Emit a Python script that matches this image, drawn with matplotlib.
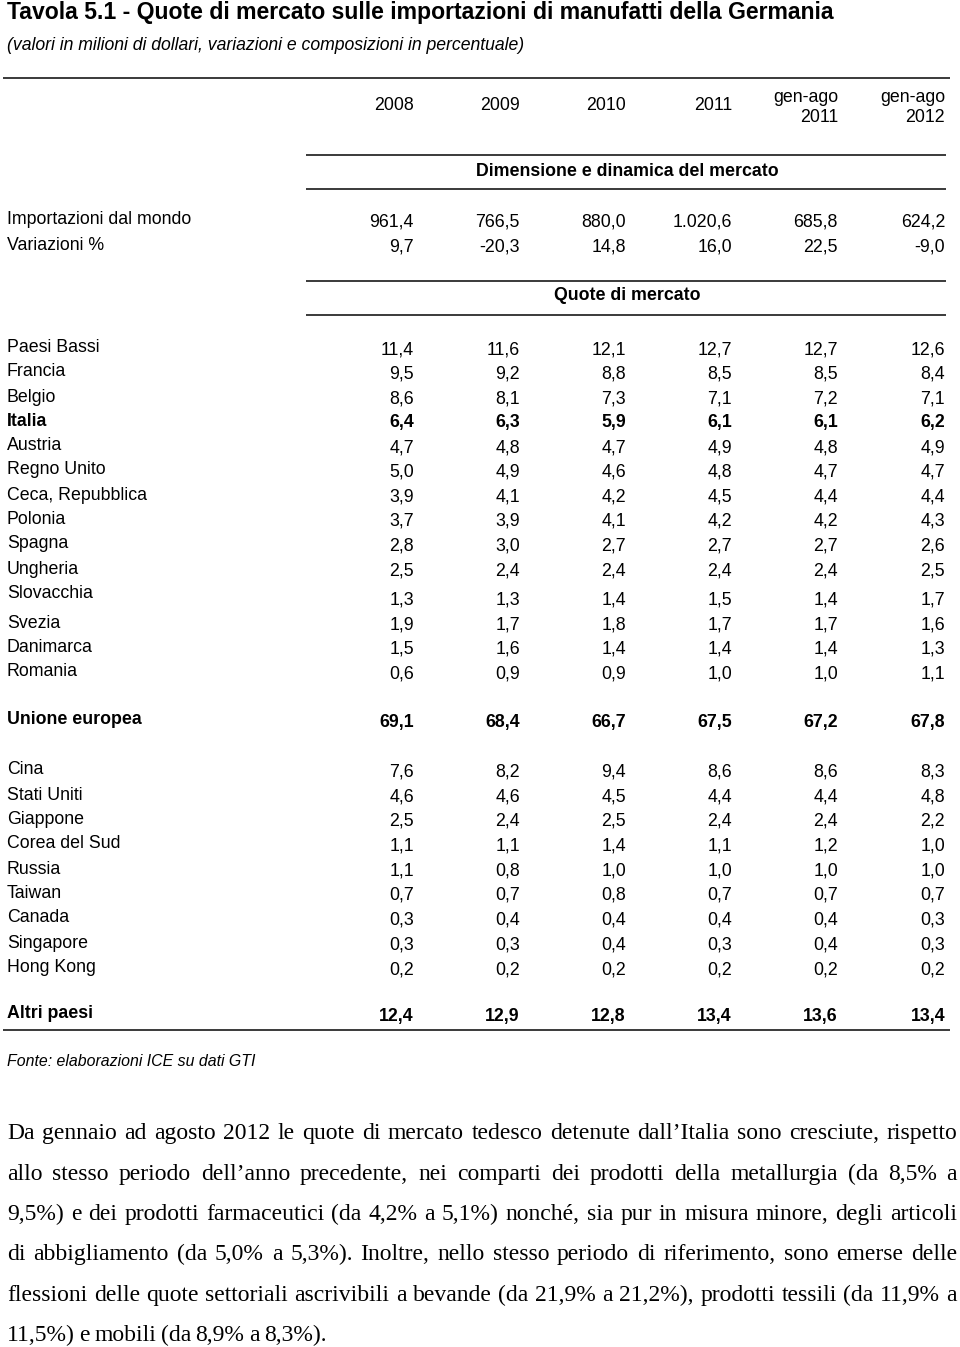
#!/usr/bin/env python3
# -*- coding: utf-8 -*-

import matplotlib
matplotlib.use("Agg")
import matplotlib.pyplot as plt

FILE_PLOT = "out.png"

# ---------------------------
#  Data
# ---------------------------

TITLE = "Tavola 5.1 - Quote di mercato sulle importazioni di manufatti della Germania"
SUBTITLE = "(valori in milioni di dollari, variazioni e composizioni in percentuale)"

periods = ["2008", "2009", "2010", "2011", "gen-ago\n2011", "gen-ago\n2012"]

import_world = [961.4, 766.5, 880.0, 1020.6, 685.8, 624.2]
variations = [9.7, -20.3, 14.8, 16.0, 22.5, -9.0]

eu_countries = ["Paesi Bassi", "Francia", "Belgio", "Italia", "Austria",
                "Regno Unito", "Ceca, Repubblica", "Polonia", "Spagna",
                "Ungheria", "Slovacchia", "Svezia", "Danimarca", "Romania"]
eu_values = [
    [11.4, 11.6, 12.1, 12.7, 12.7, 12.6],
    [9.5, 9.2, 8.8, 8.5, 8.5, 8.4],
    [8.6, 8.1, 7.3, 7.1, 7.2, 7.1],
    [6.4, 6.3, 5.9, 6.1, 6.1, 6.2],
    [4.7, 4.8, 4.7, 4.9, 4.8, 4.9],
    [5.0, 4.9, 4.6, 4.8, 4.7, 4.7],
    [3.9, 4.1, 4.2, 4.5, 4.4, 4.4],
    [3.7, 3.9, 4.1, 4.2, 4.2, 4.3],
    [2.8, 3.0, 2.7, 2.7, 2.7, 2.6],
    [2.5, 2.4, 2.4, 2.4, 2.4, 2.5],
    [1.3, 1.3, 1.4, 1.5, 1.4, 1.7],
    [1.9, 1.7, 1.8, 1.7, 1.7, 1.6],
    [1.5, 1.6, 1.4, 1.4, 1.4, 1.3],
    [0.6, 0.9, 0.9, 1.0, 1.0, 1.1],
]
eu_total = [69.1, 68.4, 66.7, 67.5, 67.2, 67.8]

other_countries = ["Cina", "Stati Uniti", "Giappone", "Corea del Sud", "Russia",
                   "Taiwan", "Canada", "Singapore", "Hong Kong"]
other_values = [
    [7.6, 8.2, 9.4, 8.6, 8.6, 8.3],
    [4.6, 4.6, 4.5, 4.4, 4.4, 4.8],
    [2.5, 2.4, 2.5, 2.4, 2.4, 2.2],
    [1.1, 1.1, 1.4, 1.1, 1.2, 1.0],
    [1.1, 0.8, 1.0, 1.0, 1.0, 1.0],
    [0.7, 0.7, 0.8, 0.7, 0.7, 0.7],
    [0.3, 0.4, 0.4, 0.4, 0.4, 0.3],
    [0.3, 0.3, 0.4, 0.3, 0.4, 0.3],
    [0.2, 0.2, 0.2, 0.2, 0.2, 0.2],
]
rest_total = [12.4, 12.9, 12.8, 13.4, 13.6, 13.4]

SOURCE = "Fonte: elaborazioni ICE su dati GTI"

paragraph_lines = [
    "Da gennaio ad agosto 2012 le quote di mercato tedesco detenute dall\u2019Italia sono cresciute, rispetto",
    "allo stesso periodo dell\u2019anno precedente, nei comparti dei prodotti della metallurgia (da 8,5% a",
    "9,5%) e dei prodotti farmaceutici (da 4,2% a 5,1%) nonché, sia pur in misura minore, degli articoli",
    "di abbigliamento (da 5,0% a 5,3%). Inoltre, nello stesso periodo di riferimento, sono emerse delle",
    "flessioni delle quote settoriali ascrivibili a bevande (da 21,9% a 21,2%), prodotti tessili (da 11,9% a",
    "11,5%) e mobili (da 8,9% a 8,3%).",
]

# ---------------------------
#  Layout (pixels)
# ---------------------------

COL_RIGHT = [414, 520, 626, 732, 838, 945]
LABEL_X = 7
SANS = ["Liberation Sans", "DejaVu Sans"]
SERIF = ["Liberation Serif", "DejaVu Serif"]
FS = 12.8
PARA_FS = 17.0
LINE_COLOR = "#3a3a3a"

eu_y = [350, 374, 399, 423, 448, 472, 497, 521, 546, 571, 600, 625, 649, 674]
other_y = [772, 797, 821, 846, 871, 895, 920, 945, 970]
para_baseline = [1139, 1180, 1220, 1260, 1301, 1341]


def fmt_it(v):
    """Formato italiano: 1.020,6"""
    s = f"{v:,.1f}"
    return s.replace(",", "X").replace(".", ",").replace("X", ".")


def hline(ax, y, x0, x1):
    ax.plot([x0, x1], [y, y], color=LINE_COLOR, lw=1.4, solid_capstyle="butt")


def row(ax, y, label, values, bold=False, label_dy=-2):
    w = "bold" if bold else "normal"
    ax.text(LABEL_X, y + label_dy, label, ha="left", va="center",
            fontsize=FS, family=SANS, weight=w)
    for x, v in zip(COL_RIGHT, values):
        ax.text(x, y, fmt_it(v), ha="right", va="center",
                fontsize=FS, family=SANS, weight=w)


def justified_line(ax, renderer, text, y, x0, x1, justify=True):
    words = text.split(" ")
    objs = [ax.text(0, y, wd, ha="left", va="baseline", fontsize=PARA_FS,
                    family=SERIF) for wd in words]
    widths = [o.get_window_extent(renderer).width for o in objs]
    if justify and len(words) > 1:
        gap = (x1 - x0 - sum(widths)) / (len(words) - 1)
    else:
        gap = 4.5
    x = x0
    for o, w in zip(objs, widths):
        o.set_x(x)
        x += w + gap


# ---------------------------
#  Plot
# ---------------------------

def main():
    fig = plt.figure(figsize=(9.6, 13.47), dpi=100)
    ax = fig.add_axes([0, 0, 1, 1])
    ax.set_xlim(0, 960)
    ax.set_ylim(1347, 0)
    ax.axis("off")

    ax.text(7, 12, TITLE, ha="left", va="center", fontsize=16.6,
            family=SANS, weight="bold")
    ax.text(7, 46, SUBTITLE, ha="left", va="center", fontsize=12.7,
            family=SANS, style="italic")

    hline(ax, 78, 3, 950)

    # intestazione colonne
    for x, p in zip(COL_RIGHT, periods):
        if "\n" in p:
            a, b = p.split("\n")
            ax.text(x, 97, a, ha="right", va="center", fontsize=FS, family=SANS)
            ax.text(x, 118, b, ha="right", va="center", fontsize=FS, family=SANS)
        else:
            ax.text(x, 106, p, ha="right", va="center", fontsize=FS, family=SANS)

    # Dimensione e dinamica del mercato
    hline(ax, 155, 306, 946)
    ax.text(627, 171, "Dimensione e dinamica del mercato", ha="center",
            va="center", fontsize=FS, family=SANS, weight="bold")
    hline(ax, 189, 306, 946)

    row(ax, 222, "Importazioni dal mondo", import_world)
    row(ax, 247, "Variazioni %", variations)

    # Quote di mercato
    hline(ax, 281, 306, 946)
    ax.text(627, 295, "Quote di mercato", ha="center", va="center",
            fontsize=FS, family=SANS, weight="bold")
    hline(ax, 315, 306, 946)

    for y, name, vals in zip(eu_y, eu_countries, eu_values):
        dy = -6 if name == "Slovacchia" else -2
        row(ax, y, name, vals, bold=(name == "Italia"), label_dy=dy)

    row(ax, 722, "Unione europea", eu_total, bold=True)

    for y, name, vals in zip(other_y, other_countries, other_values):
        row(ax, y, name, vals)

    row(ax, 1016, "Altri paesi", rest_total, bold=True)
    hline(ax, 1030, 3, 950)

    ax.text(7, 1062, SOURCE, ha="left", va="center", fontsize=11.4,
            family=SANS, style="italic")

    # testo giustificato
    renderer = fig.canvas.get_renderer()
    n = len(paragraph_lines)
    for i, (line, y) in enumerate(zip(paragraph_lines, para_baseline)):
        justified_line(ax, renderer, line, y, 7, 957, justify=(i < n - 1))

    fig.savefig(FILE_PLOT, dpi=100)
    print(f"[+] saved table to {FILE_PLOT}")


if __name__ == "__main__":
    main()
